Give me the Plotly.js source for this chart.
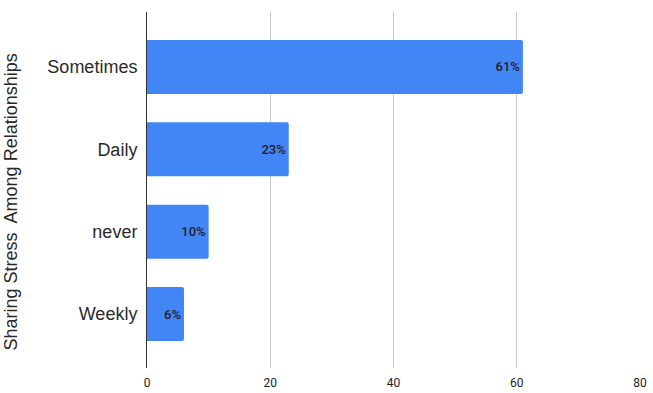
<!DOCTYPE html>
<html>
<head>
<meta charset="utf-8">
<script src="https://cdn.plot.ly/plotly-3.0.1.min.js"></script>
<style>html,body{margin:0;padding:0;background:#fff;}#chart{width:653px;height:393px;}</style>
</head>
<body>
<div id="chart"></div>
<script>
const categories = ["Sometimes", "Daily", "never", "Weekly"];
const values = [61, 23, 10, 6];
const labels = ["61%", "23%", "10%", "6%"];
const xTicks = [0, 20, 40, 60, 80];
const yTitle = "Sharing Stress  Among Relationships";

const trace = {
  type: "bar",
  orientation: "h",
  y: categories,
  x: values,
  text: labels,
  textposition: "inside",
  insidetextanchor: "end",
  constraintext: "none",
  textangle: 0,
  insidetextfont: {family: "Roboto, sans-serif", size: 13, weight: 500, color: "#222222"},
  marker: {color: "#4285F4", cornerradius: 2, line: {width: 0}},
  width: 0.655,
  hoverinfo: "none"
};

const layout = {
  width: 653,
  height: 393,
  margin: {l: 147, r: 13, t: 12, b: 25},
  paper_bgcolor: "#ffffff",
  plot_bgcolor: "#ffffff",
  showlegend: false,
  font: {family: "Roboto, sans-serif", color: "#222222"},
  xaxis: {
    range: [0, 80],
    tickvals: xTicks,
    ticktext: xTicks.map(String),
    showgrid: true,
    gridcolor: "#cccccc",
    gridwidth: 1,
    zeroline: false,
    showline: false,
    ticks: "",
    ticklabelstandoff: 6,
    tickfont: {family: "Roboto, sans-serif", size: 12, color: "#222222"},
    automargin: false
  },
  yaxis: {
    type: "category",
    range: [3.655, -0.667],
    showgrid: false,
    zeroline: false,
    showline: true,
    linecolor: "#333333",
    linewidth: 1,
    ticks: "",
    ticklabelstandoff: 5,
    tickfont: {family: "'Liberation Sans', Arial, sans-serif", size: 18, color: "#2a2a2a"},
    automargin: false
  },
  annotations: [{
    text: yTitle,
    xref: "paper",
    yref: "paper",
    x: 0,
    y: 0.465,
    xanchor: "center",
    yanchor: "middle",
    xshift: -136,
    textangle: -90,
    showarrow: false,
    font: {family: "'Liberation Sans', Arial, sans-serif", size: 18, color: "#2a2a2a"}
  }]
};

Plotly.newPlot("chart", [trace], layout, {staticPlot: true, displayModeBar: false});
</script>
</body>
</html>
